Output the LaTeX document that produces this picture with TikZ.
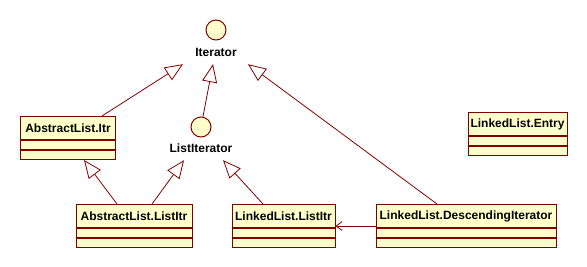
\documentclass[tikz,border=0pt]{standalone}
\usepackage{fontspec}
\setmainfont{Liberation Sans}
\usetikzlibrary{arrows.meta}

\definecolor{umlline}{RGB}{128,0,0}
\definecolor{umlfill}{RGB}{255,255,204}

\tikzset{
  umlfont/.style={font=\bfseries\fontsize{12bp}{14bp}\selectfont},
  classname/.style={draw=umlline, fill=umlfill, line width=1bp, anchor=north,
    minimum height=23bp, inner sep=0pt, umlfont},
  classpart/.style={draw=umlline, fill=umlfill, line width=1bp, anchor=north,
    minimum height=9bp, inner sep=0pt},
  iface/.style={circle, draw=umlline, fill=umlfill, line width=1bp,
    minimum size=20bp, inner sep=0pt},
  ifacelbl/.style={minimum height=24bp, inner sep=0pt, umlfont},
  realize/.style={draw=umlline, line width=0.8bp,
    -{Triangle[length=18bp, width=15bp, fill=white]}},
  navigate/.style={draw=umlline, line width=0.8bp,
    -{Straight Barb[length=6bp, width=9bp]}}
}

% class box: id, top centre, width, name
\newcommand{\umlclass}[4]{%
  \node[classname, minimum width=#3] (#1) at (#2) {#4};
  \node[classpart, minimum width=#3] (#1-attr) at (#1.south) {};
  \node[classpart, minimum width=#3] (#1-ops) at (#1-attr.south) {};
}

\begin{document}
\begin{tikzpicture}[x=1bp, y=-1bp]
\useasboundingbox (0,0) rectangle (587,266);

% interfaces
\node[iface] (iter) at (216,30) {};
\node[ifacelbl] (iterlbl) at (216,52) {Iterator};
\node[iface] (li) at (201,127) {};
\node[ifacelbl] (lilbl) at (201,148) {ListIterator};

% classes
\umlclass{aitr}{68,116}{94bp}{AbstractList.Itr}
\umlclass{alitr}{134,204}{116bp}{AbstractList.ListItr}
\umlclass{llitr}{283.5,204}{103bp}{LinkedList.ListItr}
\umlclass{desc}{466,204}{180bp}{LinkedList.DescendingIterator}
\umlclass{entry}{517.5,112}{99bp}{LinkedList.Entry}

% realizations and generalizations
\draw[realize] ([xshift=34bp]aitr.north) -- ([xshift=-33bp]iterlbl.south);
\draw[realize] (li) -- ([xshift=-3bp]iterlbl.south);
\draw[realize] ([xshift=-29bp]desc.north) -- ([xshift=32bp]iterlbl.south);
\draw[realize] ([xshift=-17bp]alitr.north) -- ([xshift=16bp]aitr-ops.south);
\draw[realize] ([xshift=18bp]alitr.north) -- ([xshift=-17bp]lilbl.south);
\draw[realize] ([xshift=-20.5bp]llitr.north) -- ([xshift=22bp]lilbl.south);

% association
\draw[navigate] ([yshift=2bp]desc.south west) -- ([yshift=2bp]llitr.south east);
\end{tikzpicture}
\end{document}
